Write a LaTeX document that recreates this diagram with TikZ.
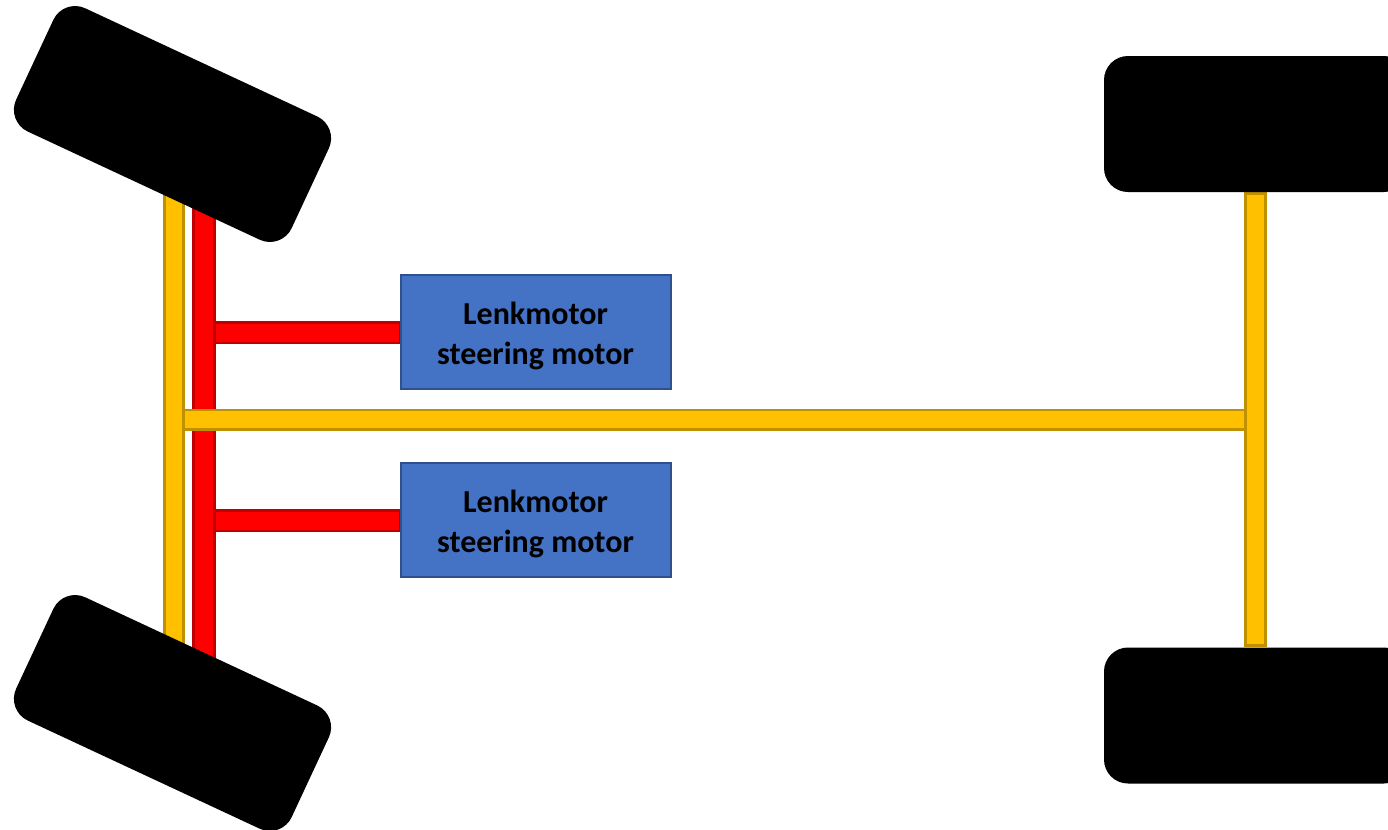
\documentclass[tikz,border=0pt]{standalone}
\usepackage{fontspec}
\setmainfont{Carlito}
\usetikzlibrary{backgrounds}
\definecolor{barY}{HTML}{FFC000}
\definecolor{barYd}{HTML}{BF9000}
\definecolor{barR}{HTML}{FF0000}
\definecolor{barRd}{HTML}{C00000}
\definecolor{motorF}{HTML}{4472C4}
\definecolor{motorD}{HTML}{2F528F}
\tikzset{
  size/.style 2 args={minimum width=#1*0.75pt, minimum height=#2*0.75pt},
  every node/.style={inner sep=0pt, outer sep=0pt},
  yellowbar/.style={draw=barYd, fill=barY, line width=2.2pt},
  redbar/.style={draw=barRd, fill=barR, line width=2.2pt},
  wheel/.style={fill=black, rectangle, rounded corners=18pt, size={304}{136}},
  motor/.style={draw=motorD, fill=motorF, line width=1.5pt, size={270}{114},
    align=center, font=\bfseries\fontsize{24}{30}\selectfont, text=black},
}
\begin{document}
\begin{tikzpicture}[x=0.75pt,y=-0.75pt]
\clip (0,0) rectangle (1388,829);
% motors
\node[motor] (m1) at (535.5,331.5) {\rule{0pt}{23.5pt}Lenkmotor\\steering motor};
\node[motor] (m2) at (535.5,520) {\rule{0pt}{23.5pt}Lenkmotor\\steering motor};
\begin{pgfonlayer}{background}
% long vertical bars
\node[yellowbar, size={19.5}{530}] (yl) at (174,415) {};
\node[redbar, size={20.5}{530}] (rl) at (204.2,415) {};
\node[yellowbar, size={19.6}{452}] (yr) at (1255.5,419.5) {};
% connectors
\draw[redbar] (rl.east |- 0,322.5) rectangle (m1.west |- 0,343);
\draw[redbar] (rl.east |- 0,510.5) rectangle (m2.west |- 0,531);
\draw[yellowbar] (yl.east |- 0,410) rectangle (yr.west |- 0,429.5);
\end{pgfonlayer}
% wheels
\node[wheel, rotate=-25] (w1) at (172.5,124) {};
\node[wheel, rotate=-25] (w2) at (172.5,713) {};
\node[wheel] (w3) at (1256,124) {};
\node[wheel] (w4) at (1256,715.5) {};
\end{tikzpicture}
\end{document}
